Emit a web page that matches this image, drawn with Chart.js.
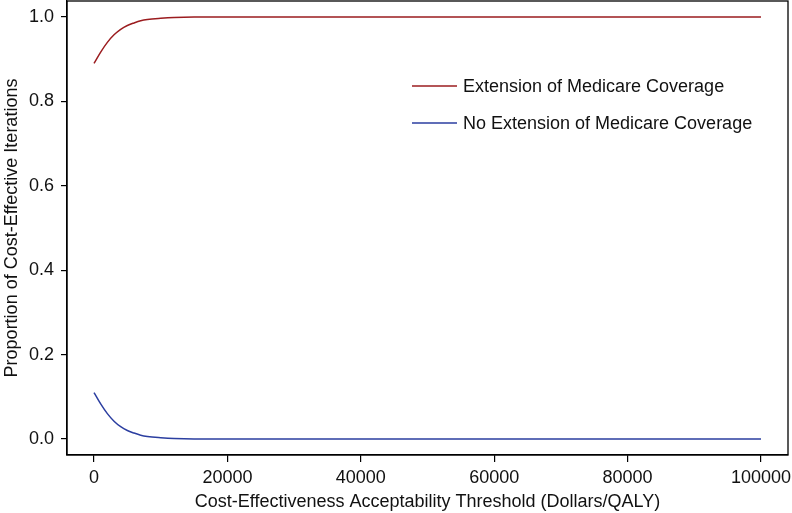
<!DOCTYPE html>
<html>
<head>
<meta charset="utf-8">
<script src="https://cdn.jsdelivr.net/npm/chart.js@4"></script>
<style>
  html, body { margin: 0; padding: 0; background: #fff; }
  #wrap { width: 792px; height: 513px; }
</style>
</head>
<body>
<div id="wrap"><canvas id="ceac" width="792" height="513"></canvas></div>
<script>
// ---------------- DATA ----------------
const thresholds = [0, 1000, 2000, 3000, 4000, 5000, 6000, 7000, 8000, 10000, 12000, 15000, 20000, 40000, 60000, 80000, 100000];
const extension   = [0.89, 0.917, 0.940, 0.958, 0.971, 0.980, 0.986, 0.991, 0.994, 0.997, 0.999, 1.0, 1.0, 1.0, 1.0, 1.0, 1.0];
const noExtension = [0.11, 0.083, 0.060, 0.042, 0.029, 0.020, 0.014, 0.009, 0.006, 0.003, 0.001, 0.0, 0.0, 0.0, 0.0, 0.0, 0.0];
const seriesLabels = ["Extension of Medicare Coverage", "No Extension of Medicare Coverage"];
const xTicks = [0, 20000, 40000, 60000, 80000, 100000];
const yTicks = [0, 0.2, 0.4, 0.6, 0.8, 1.0];

const FONT = "'Liberation Sans', Arial, Helvetica, sans-serif";

const toPoints = ys => thresholds.map((x, i) => ({ x: x, y: ys[i] }));

// box round the plot + legend inside the plot
const framePlugin = {
    id: "frame",
    afterDraw(chart) {
        const { ctx, chartArea: a } = chart;
        ctx.save();
        ctx.strokeStyle = "#000";
        ctx.lineWidth = 1.3;
        ctx.strokeRect(a.left, a.top, a.right - a.left, a.bottom - a.top);

        ctx.font = "18px " + FONT;
        ctx.textBaseline = "middle";
        ctx.fillStyle = "#111";
        const rows = [86, 123];
        chart.data.datasets.forEach((ds, i) => {
            ctx.strokeStyle = ds.borderColor;
            ctx.lineWidth = 1.4;
            ctx.beginPath();
            ctx.moveTo(412, rows[i]);
            ctx.lineTo(457, rows[i]);
            ctx.stroke();
            ctx.fillText(ds.label, 463, rows[i] + 1);
        });
        ctx.restore();
    }
};

new Chart(document.getElementById("ceac"), {
    type: "line",
    data: {
        datasets: [
            {
                label: seriesLabels[0],
                data: toPoints(extension),
                borderColor: "#9b1c1f",
                borderWidth: 1.5,
                pointRadius: 0,
                cubicInterpolationMode: "monotone"
            },
            {
                label: seriesLabels[1],
                data: toPoints(noExtension),
                borderColor: "#2b3ea0",
                borderWidth: 1.5,
                pointRadius: 0,
                cubicInterpolationMode: "monotone"
            }
        ]
    },
    options: {
        responsive: false,
        animation: false,
        layout: { padding: { left: 0, top: 1, right: 4, bottom: 0 } },
        plugins: {
            legend: { display: false },
            tooltip: { enabled: false }
        },
        scales: {
            x: {
                type: "linear",
                min: -4050,
                max: 104050,
                afterBuildTicks: axis => { axis.ticks = xTicks.map(v => ({ value: v })); },
                afterFit: axis => {
                    axis.height = 58;
                    axis.paddingLeft = 0;
                    axis.paddingRight = 0;
                },
                ticks: {
                    color: "#111",
                    font: { family: FONT, size: 18 },
                    padding: 5,
                    maxRotation: 0,
                    callback: v => String(v)
                },
                grid: { drawOnChartArea: false, drawTicks: true, tickLength: 7, color: "#000", lineWidth: 1.2 },
                border: { display: true, color: "#000", width: 1.3 },
                title: {
                    display: true,
                    text: "Cost-Effectiveness Acceptability Threshold (Dollars/QALY)",
                    color: "#111",
                    font: { family: FONT, size: 18 },
                    padding: { top: 0, bottom: 0 }
                }
            },
            y: {
                type: "linear",
                min: -0.038,
                max: 1.038,
                afterBuildTicks: axis => { axis.ticks = yTicks.map(v => ({ value: v })); },
                afterFit: axis => {
                    axis.width = 67;
                    axis.paddingTop = 0;
                    axis.paddingBottom = 0;
                },
                ticks: {
                    color: "#111",
                    font: { family: FONT, size: 18 },
                    padding: 7,
                    callback: v => v.toFixed(1)
                },
                grid: { drawOnChartArea: false, drawTicks: true, tickLength: 6, color: "#000", lineWidth: 1.2 },
                border: { display: true, color: "#000", width: 1.3 },
                title: {
                    display: true,
                    text: "Proportion of Cost-Effective Iterations",
                    color: "#111",
                    font: { family: FONT, size: 18 },
                    padding: { top: 1, bottom: 0 }
                }
            }
        }
    },
    plugins: [framePlugin]
});
</script>
</body>
</html>
